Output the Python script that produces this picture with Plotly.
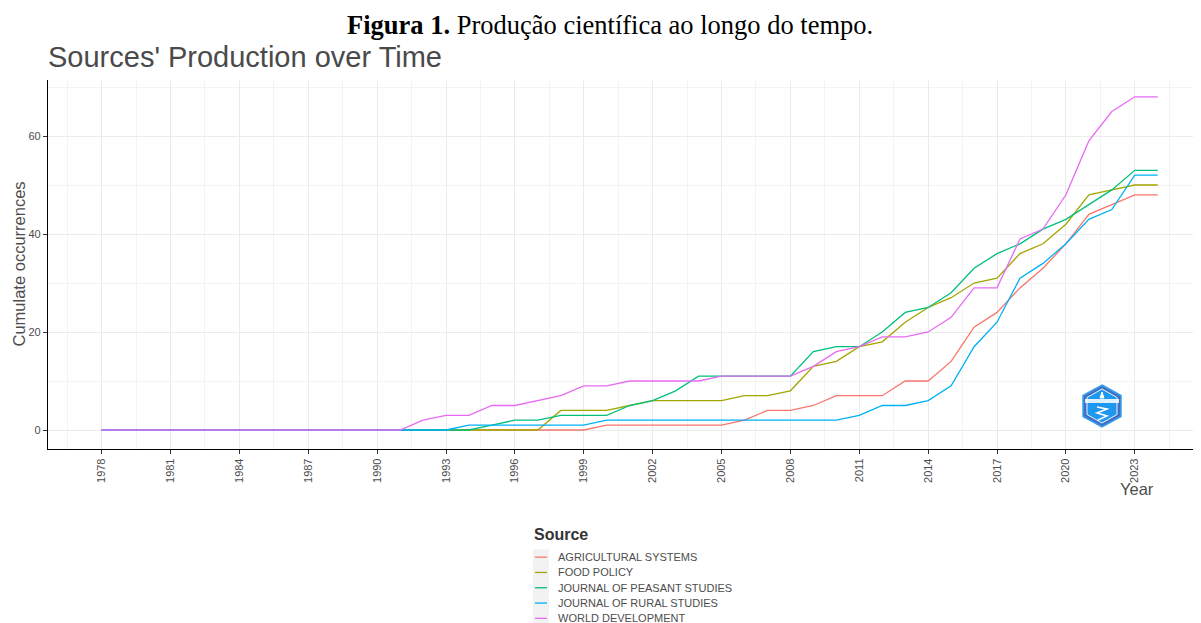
import plotly.graph_objects as go

years = list(range(1978, 2025))
sources = ["AGRICULTURAL SYSTEMS", "FOOD POLICY", "JOURNAL OF PEASANT STUDIES",
           "JOURNAL OF RURAL STUDIES", "WORLD DEVELOPMENT"]
colors = ["#F8766D", "#A3A500", "#00BF7D", "#00B0F6", "#E76BF3"]

z13 = [0] * 13  # 1978-1990
# 1991 .. 2024
agri = z13 + [0, 0, 0, 0, 0, 0, 0, 0, 0, 1, 1, 1, 1, 1, 1, 2, 4, 4, 5, 7, 7, 7, 10, 10, 14, 21, 24, 29, 33, 38, 44, 46, 48, 48]
food = z13 + [0, 0, 0, 0, 0, 0, 0, 4, 4, 4, 5, 6, 6, 6, 6, 7, 7, 8, 13, 14, 17, 18, 22, 25, 27, 30, 31, 36, 38, 42, 48, 49, 50, 50]
peas = z13 + [0, 0, 0, 0, 1, 2, 2, 3, 3, 3, 5, 6, 8, 11, 11, 11, 11, 11, 16, 17, 17, 20, 24, 25, 28, 33, 36, 38, 41, 43, 46, 49, 53, 53]
rural = z13 + [0, 0, 0, 1, 1, 1, 1, 1, 1, 2, 2, 2, 2, 2, 2, 2, 2, 2, 2, 2, 3, 5, 5, 6, 9, 17, 22, 31, 34, 38, 43, 45, 52, 52]
world = z13 + [0, 2, 3, 3, 5, 5, 6, 7, 9, 9, 10, 10, 10, 10, 11, 11, 11, 11, 13, 16, 17, 19, 19, 20, 23, 29, 29, 39, 41, 48, 59, 65, 68, 68]
series = [agri, food, peas, rural, world]

tick_years = list(range(1978, 2024, 3))

# page body has an 8px margin, so the figure is drawn 8px in from the window edge
OFF = 8
W, H = 1201 - OFF, 623 - OFF
# plot area in window pixels
L, R, T, B = 48, 1199, 80, 449


def px(x):
    return (x - L) / (R - L)


def py(y):
    return (B - y) / (B - T)


fig = go.Figure()
for name, col, vals in zip(sources, colors, series):
    fig.add_trace(go.Scatter(x=years, y=vals, mode="lines", name=name,
                             line=dict(color=col, width=1.3), showlegend=False))

SANS = "Liberation Sans, Arial, sans-serif"
axis_font = dict(family=SANS, size=11, color="#4d4d4d")

fig.update_layout(
    width=W, height=H,
    margin=dict(l=L - OFF, r=1201 - R, t=T - OFF, b=623 - B, pad=0),
    paper_bgcolor="white", plot_bgcolor="white",
    font=dict(family=SANS, color="#4d4d4d"),
    xaxis=dict(range=[1975.665, 2025.797], tickmode="array", tickvals=tick_years,
               ticktext=[str(y) for y in tick_years], tickangle=-90,
               tickfont=axis_font, ticks="outside", ticklen=4, tickcolor="#333333",
               showline=True, linecolor="black", linewidth=1.2,
               showgrid=True, gridcolor="#ebebeb", gridwidth=1, zeroline=False,
               minor=dict(tick0=1976.5, dtick=1.5, showgrid=True, gridcolor="#f3f3f3", gridwidth=1)),
    yaxis=dict(range=[-3.878, 71.43], tickvals=[0, 20, 40, 60], tickfont=axis_font,
               ticks="outside", ticklen=4, tickcolor="#333333",
               showline=True, linecolor="black", linewidth=1.2,
               showgrid=True, gridcolor="#ebebeb", gridwidth=1, zeroline=False,
               minor=dict(tick0=10, dtick=10, showgrid=True, gridcolor="#f3f3f3", gridwidth=1)),
)

ann = []
ann.append(dict(text="<b>Figura 1.</b> Produção científica ao longo do tempo.",
                x=px(610), y=py(25), xref="paper", yref="paper", showarrow=False,
                xanchor="center", yanchor="middle",
                font=dict(family="Liberation Serif, Times New Roman, serif", size=26.5, color="black")))
ann.append(dict(text="Sources' Production over Time", x=px(46), y=py(57), xref="paper", yref="paper",
                showarrow=False, xanchor="left", yanchor="middle",
                font=dict(family=SANS, size=29, color="#4a4a4a")))
ann.append(dict(text="Cumulate occurrences", x=px(18), y=py(264.5), xref="paper", yref="paper",
                showarrow=False, xanchor="center", yanchor="middle", textangle=-90,
                font=dict(family=SANS, size=16.5, color="#4d4d4d")))
ann.append(dict(text="Year", x=px(1137), y=py(489), xref="paper", yref="paper",
                showarrow=False, xanchor="center", yanchor="middle",
                font=dict(family=SANS, size=16.5, color="#4d4d4d")))
ann.append(dict(text="<b>Source</b>", x=px(532), y=py(534), xref="paper", yref="paper",
                showarrow=False, xanchor="left", yanchor="middle",
                font=dict(family=SANS, size=16, color="#333333")))

shapes = []
key_y0 = 549.5
key_h = 15.3
for i, (name, col) in enumerate(zip(sources, colors)):
    yc = key_y0 + key_h * (i + 0.5)
    shapes.append(dict(type="rect", xref="paper", yref="paper",
                       x0=px(533), x1=px(549), y0=py(key_y0 + key_h * i), y1=py(key_y0 + key_h * (i + 1)),
                       fillcolor="#f2f2f2", line=dict(width=0), layer="below"))
    shapes.append(dict(type="line", xref="paper", yref="paper",
                       x0=px(535), x1=px(547), y0=py(yc), y1=py(yc),
                       line=dict(color=col, width=1.3)))
    ann.append(dict(text=name, x=px(556), y=py(yc), xref="paper", yref="paper",
                    showarrow=False, xanchor="left", yanchor="middle",
                    font=dict(family=SANS, size=11, color="#4d4d4d")))

# watermark logo (hexagon)
cx, cy = 1102, 406


def hexpath(rx, ry):
    pts = [(cx, cy - ry), (cx + rx, cy - ry / 2), (cx + rx, cy + ry / 2),
           (cx, cy + ry), (cx - rx, cy + ry / 2), (cx - rx, cy - ry / 2)]
    return "M " + " L ".join(f"{px(a):.5f},{py(b):.5f}" for a, b in pts) + " Z"


shapes.append(dict(type="path", xref="paper", yref="paper", path=hexpath(19, 21),
                   fillcolor="#3f70c8", line=dict(color="#3aa0ea", width=1.5)))
shapes.append(dict(type="path", xref="paper", yref="paper", path=hexpath(15, 17),
                   fillcolor="#1e98ee", line=dict(color="#e8f4ff", width=1)))
shapes.append(dict(type="rect", xref="paper", yref="paper", x0=px(1085), x1=px(1119),
                   y0=py(399), y1=py(403), fillcolor="#ffffff", line=dict(width=0), opacity=0.85))
shapes.append(dict(type="path", xref="paper", yref="paper",
                   path=f"M {px(1100):.5f},{py(398):.5f} L {px(1102):.5f},{py(392):.5f} L {px(1104):.5f},{py(398):.5f} Z",
                   fillcolor="white", line=dict(color="white", width=1)))
shapes.append(dict(type="path", xref="paper", yref="paper",
                   path=f"M {px(1097):.5f},{py(407):.5f} L {px(1107):.5f},{py(409):.5f} L {px(1097):.5f},{py(413):.5f} L {px(1107):.5f},{py(416):.5f} L {px(1098):.5f},{py(420):.5f}",
                   line=dict(color="white", width=1.5)))

fig.update_layout(annotations=ann, shapes=shapes)
fig.write_html("out.html")
